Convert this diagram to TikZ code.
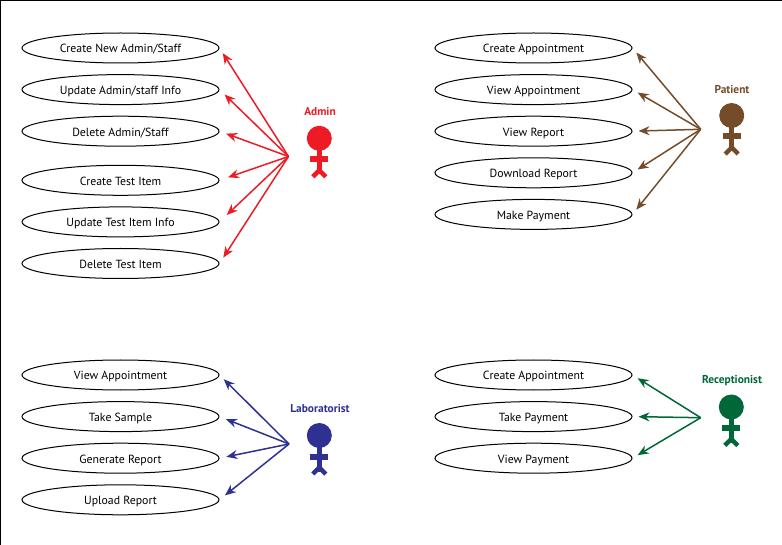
\documentclass[tikz,border=0pt]{standalone}
\usepackage{fontspec}
\setmainfont{PT Sans}
\usepackage{xcolor}
\usetikzlibrary{shapes.geometric, arrows.meta}

\definecolor{adminred}{HTML}{ED1C24}
\definecolor{patientbrown}{HTML}{754C29}
\definecolor{labblue}{HTML}{2E3192}
\definecolor{receptgreen}{HTML}{006838}

\tikzset{
	usecase/.style={draw, ellipse, line width=1pt, minimum width=197pt, minimum height=30pt, inner sep=0pt, text height=11pt, text depth=1pt, font=\fontsize{11.8}{13}\selectfont},
	actorname/.style={font=\fontsize{11.4}{13}\selectfont\bfseries},
	assoc/.style={-{Stealth[length=11pt, width=9pt]}, line width=1.5pt},
	actor/.pic={
		\fill (0,0) circle (12.5pt);
		\fill (-2.5,10) rectangle (2.5,36);
		\fill (-9,18) rectangle (9,24);
		\draw[line width=4.5pt] (-6.5,38.5) -- (0,32) -- (6.5,38.5);
	}
}

\begin{document}
\begin{tikzpicture}[x=1pt, y=-1pt, node distance=41.6pt]
	\useasboundingbox (0,0) rectangle (782,545);

	% Frame
	\draw[line width=1.5pt] (0.5,545) -- (0.5,0.5) -- (782,0.5);

	% Admin
	\node[usecase] (admin_one) at (120.5,48) {Create New Admin/Staff};
	\node[usecase, below of=admin_one] (admin_two) {Update Admin/staff Info};
	\node[usecase, below of=admin_two] (admin_three) {Delete Admin/Staff};
	\node[usecase, below of=admin_three, yshift=-7.5pt] (admin_four) {Create Test Item};
	\node[usecase, below of=admin_four] (admin_five) {Update Test Item Info};
	\node[usecase, below of=admin_five] (admin_six) {Delete Test Item};
	\node[actorname, text=adminred] (admin_name) at (320,112) {Admin};
	\coordinate (admin_hub) at (288.5,156.5);
	\pic[adminred] at (319.3,138.3) {actor};
	\foreach \target/\gap in {admin_one/6pt, admin_two/7pt, admin_three/7pt, admin_four/9pt, admin_five/10pt, admin_six/7pt}
		\draw[assoc, adminred, shorten >=\gap] (admin_hub) -- (\target.east);

	% Patient
	\node[usecase] (patient_one) at (533.5,48) {Create Appointment};
	\node[usecase, below of=patient_one] (patient_two) {View Appointment};
	\node[usecase, below of=patient_two] (patient_three) {View Report};
	\node[usecase, below of=patient_three] (patient_four) {Download Report};
	\node[usecase, below of=patient_four] (patient_five) {Make Payment};
	\node[actorname, text=patientbrown] (patient_name) at (732,89.5) {Patient};
	\coordinate (patient_hub) at (700.7,129.3);
	\pic[patientbrown] at (731.7,115.5) {actor};
	\foreach \target/\gap in {patient_one/6pt, patient_two/6pt, patient_three/6pt, patient_four/6pt, patient_five/6pt}
		\draw[assoc, patientbrown, shorten >=\gap] (patient_hub) -- (\target.east);

	% Laboratorist
	\node[usecase] (lab_one) at (120.5,375) {View Appointment};
	\node[usecase, below of=lab_one] (lab_two) {Take Sample};
	\node[usecase, below of=lab_two] (lab_three) {Generate Report};
	\node[usecase, below of=lab_three] (lab_four) {Upload Report};
	\node[actorname, text=labblue] (lab_name) at (320,409) {Laboratorist};
	\coordinate (lab_hub) at (289,444);
	\pic[labblue] at (319.3,435.5) {actor};
	\foreach \target/\gap in {lab_one/6pt, lab_two/7pt, lab_three/7pt, lab_four/7pt}
		\draw[assoc, labblue, shorten >=\gap] (lab_hub) -- (\target.east);

	% Receptionist
	\node[usecase] (recept_one) at (533.5,375) {Create Appointment};
	\node[usecase, below of=recept_one] (recept_two) {Take Payment};
	\node[usecase, below of=recept_two] (recept_three) {View Payment};
	\node[actorname, text=receptgreen] (recept_name) at (732,381) {Receptionist};
	\coordinate (recept_hub) at (700.7,417.7);
	\pic[receptgreen] at (731.3,407) {actor};
	\foreach \target/\gap in {recept_one/6pt, recept_two/6pt, recept_three/6pt}
		\draw[assoc, receptgreen, shorten >=\gap] (recept_hub) -- (\target.east);
\end{tikzpicture}
\end{document}
